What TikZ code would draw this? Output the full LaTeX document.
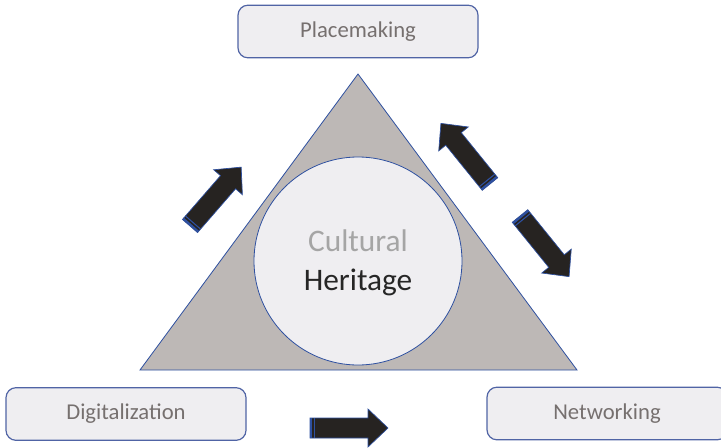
\documentclass[tikz,border=0pt]{standalone}
\usepackage{fontspec}
\setmainfont{Carlito}
\usetikzlibrary{positioning,calc}

\definecolor{boxfill}{RGB}{239,238,241}
\definecolor{boxline}{RGB}{80,100,165}
\definecolor{labeltext}{RGB}{118,112,111}
\definecolor{trifill}{RGB}{189,184,182}
\definecolor{edgeblue}{RGB}{46,80,160}
\definecolor{arrowfill}{RGB}{38,35,33}
\definecolor{lightgrey}{RGB}{165,165,165}

\tikzset{
  labelbox/.style={draw=boxline, line width=0.9pt, fill=boxfill, rounded corners=7.5pt,
    minimum width=180pt, minimum height=39.5pt, inner sep=0pt,
    text=labeltext, font=\fontsize{17}{20}\selectfont},
  hubcircle/.style={circle, draw=edgeblue, line width=0.6pt, fill=boxfill,
    minimum size=156pt, inner sep=0pt},
  blockarrow/.style={fill=arrowfill, draw=edgeblue, line width=0.5pt, line join=miter}
}

% block arrow: tail point, angle, length
\newcommand{\blockarr}[3]{%
  \begin{scope}[shift={#1}, rotate=#2]
    \draw[blockarrow] (0,-10) -- (#3-20,-10) -- (#3-20,-19) -- (#3,0)
      -- (#3-20,19) -- (#3-20,10) -- (0,10) -- cycle;
    \draw[edgeblue, line width=1.6pt] (1.2,-10) -- (1.2,10);
    \draw[edgeblue, line width=0.8pt] (4.6,-10) -- (4.6,10);
  \end{scope}}

\begin{document}
\begin{tikzpicture}[x=0.75pt,y=-0.75pt]
  \clip (0,0) rectangle (721,447);
  \fill[white] (0,0) rectangle (721,447);

  % triangle with heritage circle
  \coordinate (top) at (358,74);
  \coordinate (bl) at (140,370);
  \coordinate (br) at (577,370);
  \draw[fill=trifill, draw=edgeblue, line width=0.6pt] (top) -- (br) -- (bl) -- cycle;
  \node[hubcircle] (heritage) at (358,261) {};
  \node[anchor=base, text=lightgrey, font=\fontsize{23.5}{28}\selectfont] (cult) at (358,251) {Cultural};
  \node[anchor=base, text=black!85, font=\fontsize{23.5}{28}\selectfont] (herit) at (358,290) {Heritage};

  % the three corner labels
  \node[labelbox] (place) at (358,31.5) {Placemaking};
  \node[labelbox] (digit) at (126,414) {Digitalization};
  \node[labelbox] (netw) at (607,413.5) {Networking};

  % arrows
  \blockarr{(190,226)}{49}{78}
  \blockarr{(490,184)}{129}{78}
  \blockarr{(520,216)}{-51}{78}
  \blockarr{(310,428)}{0}{78}
\end{tikzpicture}
\end{document}
